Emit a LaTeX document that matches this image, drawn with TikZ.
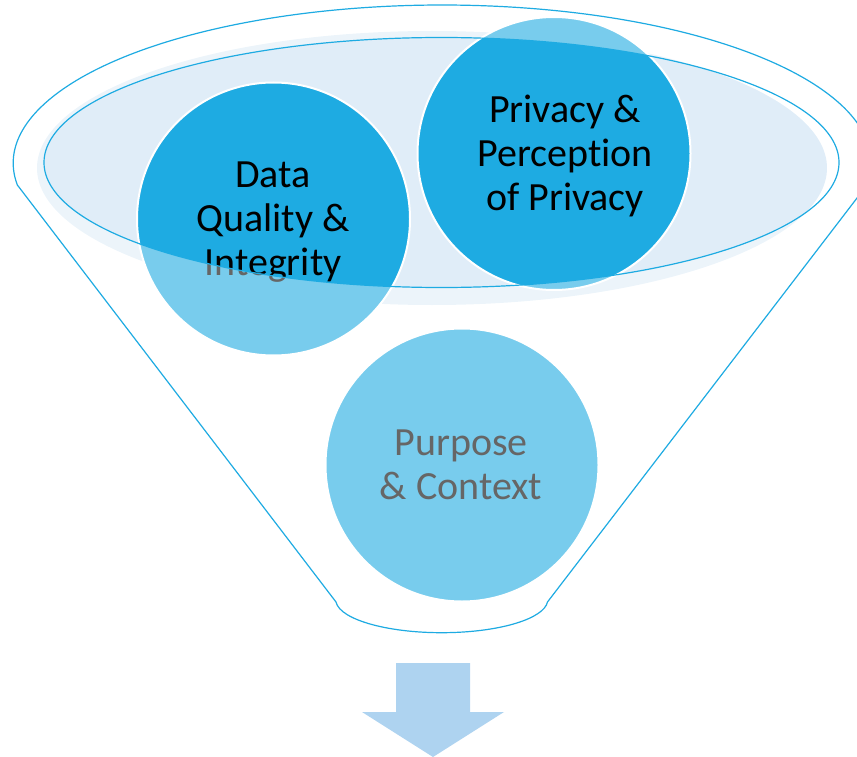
\documentclass[tikz,border=0pt]{standalone}
\usepackage{fontspec}
\setmainfont{Carlito}[Ligatures=NoCommon]
\definecolor{dkblue}{HTML}{1EABE2}
\definecolor{halo}{HTML}{E0EDF8}
\definecolor{arrowblue}{HTML}{AED3F0}
\begin{document}
\begin{tikzpicture}[x=1pt,y=-1pt,
  ball/.style={circle, fill=dkblue, draw=white, line width=2pt, minimum size=273pt, inner sep=0pt},
  balltext/.style={align=center, inner sep=0pt, font=\fontsize{40}{44}\selectfont, text=black},
  outline/.style={draw=dkblue, line width=1.2pt, line join=round}]
\useasboundingbox (0,0) rectangle (857,757);
\clip (0,0) rectangle (857,757);
% glow of the funnel mouth
\fill[halo] (432,168) ellipse [x radius=395, y radius=137];
% circles
\node[ball] (dq) at (273.5,219) {};
\node[ball] (pp) at (554,153.5) {};
\node[ball] (pc) at (462,465) {};
\node[balltext] (dqt) at (273,222) {Data\\Quality \&\\Integrity};
\node[balltext] (ppt) at (565,155.5) {Privacy \&\\Perception\\of Privacy};
\node[balltext] (pct) at (461,465) {Purpose\\\& Context};
% translucent funnel body (everything outside the mouth)
\fill[white, opacity=0.4, even odd rule] (0,0) rectangle (857,757) (441.5,162.5) ellipse [x radius=397.5, y radius=125];
% mouth outline
\draw[outline] (441.5,162.5) ellipse [x radius=397.5, y radius=125];
% funnel outline
\draw[outline] (867,185) arc[start angle=8, end angle=-188, x radius=429, y radius=158]
  -- (336,602) arc[start angle=176, end angle=4, x radius=106, y radius=33]
  -- cycle;
% down arrow
\fill[arrowblue] (396,663) -- (470,663) -- (470,712) -- (504,712) -- (433,757) -- (362,712) -- (396,712) -- cycle;
\end{tikzpicture}
\end{document}
